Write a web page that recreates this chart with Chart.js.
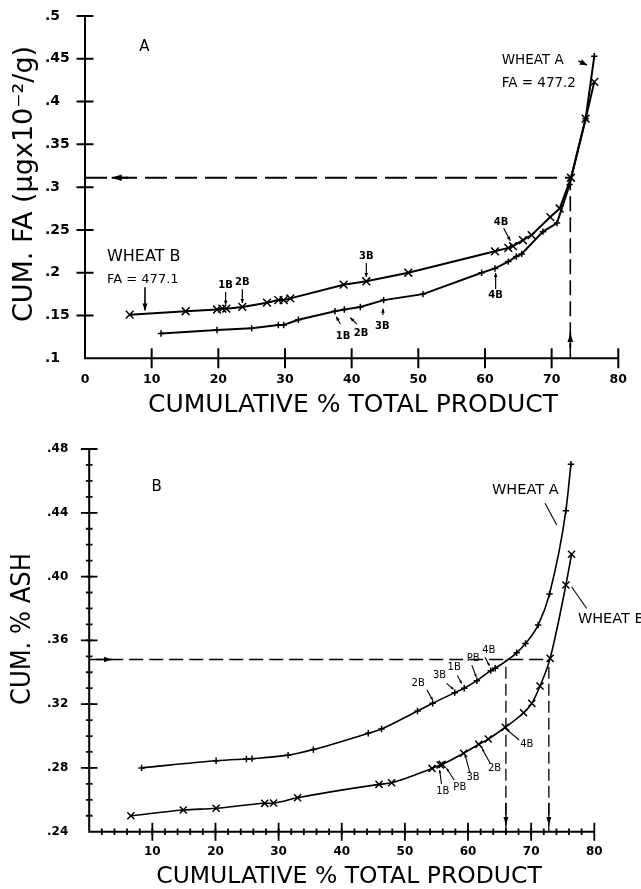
<!DOCTYPE html>
<html><head><meta charset="utf-8">
<script src="https://cdn.jsdelivr.net/npm/chart.js@4.4.1/dist/chart.umd.min.js"></script>
<style>
html,body{margin:0;padding:0;background:#fff;}
#wrap{position:relative;width:641px;height:889px;overflow:hidden;background:#fff;}
#c1{position:absolute;left:0;top:0;}
#c2{position:absolute;left:0;top:420px;}
</style></head><body>
<div id="wrap"><canvas id="c1" width="641" height="420"></canvas><canvas id="c2" width="641" height="469"></canvas></div>
<script>
// ---------- Panel A : cumulative FA ----------
const faXTickValues = [0, 10, 20, 30, 40, 50, 60, 70, 80];
const faXTickLabels = ['0', '10', '20', '30', '40', '50', '60', '70', '80'];
const faYTickValues = [0.1, 0.15, 0.2, 0.25, 0.3, 0.35, 0.4, 0.45, 0.5];
const faYTickLabels = ['.1', '.15', '.2', '.25', '.3', '.35', '.4', '.45', '.5'];

const faWheatAx = [11.4, 19.8, 25.0, 29.0, 29.8, 32.0, 37.5, 38.9, 41.3, 44.8, 50.7, 59.5, 61.5, 63.5, 64.7, 65.5, 68.7, 70.8, 72.7, 75.1, 76.4];
const faWheatAy = [0.129, 0.133, 0.135, 0.139, 0.139, 0.145, 0.155, 0.157, 0.160, 0.168, 0.175, 0.200, 0.205, 0.213, 0.219, 0.222, 0.248, 0.258, 0.303, 0.380, 0.453];
const faWheatBx = [6.7, 15.1, 19.8, 20.6, 21.2, 23.6, 27.3, 29.0, 29.8, 30.8, 38.8, 42.2, 48.5, 61.5, 63.5, 64.2, 65.7, 67.0, 69.8, 71.2, 72.9, 75.1, 76.4];
const faWheatBy = [0.151, 0.155, 0.157, 0.158, 0.158, 0.160, 0.165, 0.168, 0.168, 0.170, 0.186, 0.190, 0.200, 0.225, 0.229, 0.231, 0.238, 0.244, 0.265, 0.275, 0.311, 0.380, 0.423];
const faGuideHx = [0, 72.8];
const faGuideHy = [0.311, 0.311];
const faGuideVx = [72.8, 72.8];
const faGuideVy = [0.1, 0.311];

// ---------- Panel B : cumulative % ash ----------
const ashXTickValues = [10, 20, 30, 40, 50, 60, 70, 80];
const ashXTickLabels = ['10', '20', '30', '40', '50', '60', '70', '80'];
const ashYTickValues = [0.24, 0.28, 0.32, 0.36, 0.40, 0.44, 0.48];
const ashYTickLabels = ['.24', '.28', '.32', '.36', '.40', '.44', '.48'];

const ashWheatAx = [8.3, 20.1, 24.9, 25.8, 31.5, 35.5, 44.2, 46.3, 52.0, 54.4, 57.9, 59.4, 61.4, 63.6, 64.3, 67.7, 69.1, 71.1, 72.9, 75.5, 76.3];
const ashWheatAy = [0.280, 0.2845, 0.2856, 0.2858, 0.288, 0.2915, 0.3017, 0.3044, 0.3157, 0.3205, 0.3272, 0.330, 0.3347, 0.341, 0.3425, 0.3522, 0.358, 0.3696, 0.389, 0.4413, 0.4705];
const ashWheatBx = [6.6, 14.9, 20.1, 27.8, 29.2, 33.0, 45.9, 47.9, 54.3, 55.6, 55.9, 59.3, 61.7, 63.2, 65.9, 68.8, 70.1, 71.4, 73.0, 75.5, 76.4];
const ashWheatBy = [0.250, 0.2536, 0.2547, 0.2578, 0.2580, 0.2613, 0.2697, 0.2707, 0.2797, 0.2818, 0.2822, 0.2892, 0.2948, 0.2981, 0.3055, 0.3146, 0.3205, 0.3314, 0.3487, 0.3947, 0.414];
const ashGuideHx = [0, 73.0];
const ashGuideHy = [0.348, 0.348];
const ashGuideV1x = [66.0, 66.0];
const ashGuideV1y = [0.24, 0.348];
const ashGuideV2x = [72.8, 72.8];
const ashGuideV2y = [0.24, 0.348];

const pts = (xs, ys) => xs.map((x, i) => ({x: x, y: ys[i]}));

const FONT = '"DejaVu Sans", "Liberation Sans", sans-serif';

// ---------- decoration plugin (axes with crossing ticks, titles, annotations) ----------
function decoPlugin(cfg) {
  return {
    id: 'deco',
    afterDatasetsDraw(chart) {
      const ctx = chart.ctx, xs = chart.scales.x, ys = chart.scales.y;
      const X = v => xs.getPixelForValue(v), Y = v => ys.getPixelForValue(v);
      ctx.save();
      ctx.strokeStyle = '#000'; ctx.fillStyle = '#000';
      ctx.lineCap = 'butt';
      ctx.lineWidth = cfg.axisWidth;
      ctx.beginPath();
      ctx.moveTo(X(xs.min), Y(ys.max));
      ctx.lineTo(X(xs.min), Y(ys.min));
      ctx.lineTo(X(xs.max), Y(ys.min));
      ctx.stroke();
      ctx.lineWidth = cfg.tickWidth;
      ctx.beginPath();
      cfg.majorX.forEach(v => { const p = X(v); ctx.moveTo(p, Y(ys.min) - cfg.xHalf); ctx.lineTo(p, Y(ys.min) + cfg.xHalf); });
      cfg.majorY.forEach(v => { const p = Y(v); ctx.moveTo(X(xs.min) - cfg.yHalf, p); ctx.lineTo(X(xs.min) + cfg.yHalf, p); });
      ctx.stroke();
      if (cfg.minorXStep) {
        ctx.beginPath();
        for (let v = xs.min + cfg.minorXStep; v < xs.max - 1e-9; v += cfg.minorXStep) {
          const p = X(v); ctx.moveTo(p, Y(ys.min) - cfg.minorHalf); ctx.lineTo(p, Y(ys.min) + cfg.minorHalf);
        }
        for (let k = 1; k < Math.round((ys.max - ys.min) / cfg.minorYStep); k++) {
          const p = Y(ys.min + k * cfg.minorYStep); ctx.moveTo(X(xs.min) - cfg.minorHalf, p); ctx.lineTo(X(xs.min) + cfg.minorHalf, p);
        }
        ctx.stroke();
      }
      const head = (x1, y1, x2, y2, len, w) => {
        const a = Math.atan2(y2 - y1, x2 - x1);
        ctx.beginPath();
        ctx.moveTo(x2, y2);
        ctx.lineTo(x2 - len * Math.cos(a) + w * Math.sin(a), y2 - len * Math.sin(a) - w * Math.cos(a));
        ctx.lineTo(x2 - len * Math.cos(a) - w * Math.sin(a), y2 - len * Math.sin(a) + w * Math.cos(a));
        ctx.closePath(); ctx.fill();
      };
      cfg.arrows.forEach(a => {
        const x1 = X(a[0]), y1 = Y(a[1]), x2 = X(a[2]), y2 = Y(a[3]);
        ctx.lineWidth = a[6] || 1.2;
        ctx.beginPath(); ctx.moveTo(x1, y1); ctx.lineTo(x2, y2); ctx.stroke();
        if (a[4] > 0) head(x1, y1, x2, y2, a[4], a[5]);
      });
      cfg.texts.forEach(t => {
        ctx.font = t.font;
        ctx.textAlign = t.align || 'center';
        ctx.textBaseline = 'middle';
        ctx.fillText(t.s, X(t.x), Y(t.y));
      });
      cfg.titles.forEach(t => {
        ctx.save();
        ctx.translate(t.x, t.y);
        if (t.rot) ctx.rotate(t.rot);
        ctx.font = t.font;
        ctx.textAlign = 'center';
        ctx.textBaseline = 'middle';
        ctx.fillText(t.text, 0, 0, t.maxWidth);
        ctx.restore();
      });
      ctx.restore();
    }
  };
}

function lineSet(data, style, radius, width, smooth) {
  return {data: data, showLine: true, borderColor: '#000', borderWidth: width,
    pointStyle: style, pointRadius: radius, pointBorderColor: '#000', pointBorderWidth: 1.5,
    pointBackgroundColor: '#000', fill: false, tension: 0, clip: false,
    cubicInterpolationMode: smooth ? 'monotone' : 'default'};
}
function guideSet(data, dash, width) {
  return {data: data, showLine: true, borderColor: '#000', borderWidth: width, borderDash: dash,
    pointRadius: 0, fill: false, tension: 0, clip: false};
}
function tickFont(size) { return {family: FONT, size: size, weight: 'bold'}; }

// ---------- chart A ----------
const boldS = 'bold 10px ' + FONT;
new Chart(document.getElementById('c1'), {
  type: 'scatter',
  data: {datasets: [
    lineSet(pts(faWheatBx, faWheatBy), 'crossRot', 5.5, 2, false),
    lineSet(pts(faWheatAx, faWheatAy), 'cross', 3.2, 2, false),
    guideSet(pts(faGuideHx, faGuideHy), [22, 8], 1.8),
    guideSet(pts(faGuideVx, faGuideVy), [15, 6], 1.6)
  ]},
  options: {
    responsive: false, devicePixelRatio: 1, animation: false, events: [],
    layout: {padding: {left: 45, right: 18.3, top: 16, bottom: 0}},
    plugins: {legend: {display: false}, tooltip: {enabled: false}},
    scales: {
      x: {type: 'linear', min: 0, max: 80,
        afterBuildTicks: s => { s.ticks = faXTickValues.map(v => ({value: v})); },
        afterFit: s => { s.height = 61.7; },
        grid: {display: false, drawTicks: false}, border: {display: false},
        ticks: {callback: (v, i) => faXTickLabels[i], font: tickFont(12.5), color: '#000', padding: 14, maxRotation: 0, autoSkip: false}},
      y: {type: 'linear', min: 0.1, max: 0.5,
        afterBuildTicks: s => { s.ticks = faYTickValues.map(v => ({value: v})); },
        afterFit: s => { s.width = 40; },
        grid: {display: false, drawTicks: false}, border: {display: false},
        ticks: {callback: (v, i) => faYTickLabels[i], font: tickFont(14), color: '#000', crossAlign: 'far', padding: 0, autoSkip: false}}
    }
  },
  plugins: [decoPlugin({
    axisWidth: 2, tickWidth: 2, xHalf: 10, yHalf: 8.5,
    majorX: faXTickValues.slice(1), majorY: faYTickValues.slice(1),
    titles: [
      {text: 'CUMULATIVE % TOTAL PRODUCT', x: 353, y: 405, font: '25px ' + FONT, maxWidth: 413},
      {text: 'CUM. FA (\u03bcgx10\u207b\u00b2/g)', x: 25, y: 184, font: '27px ' + FONT, maxWidth: 288, rot: -Math.PI / 2}
    ],
    texts: [
      {s: 'A', x: 8.9, y: 0.464, font: '15px ' + FONT},
      {s: 'WHEAT B', x: 3.3, y: 0.218, font: '16px ' + FONT, align: 'left'},
      {s: 'FA = 477.1', x: 3.3, y: 0.1915, font: '13px ' + FONT, align: 'left'},
      {s: '1B', x: 21.1, y: 0.1856, font: boldS},
      {s: '2B', x: 23.6, y: 0.189, font: boldS},
      {s: '3B', x: 42.2, y: 0.2187, font: boldS},
      {s: '1B', x: 38.7, y: 0.1252, font: boldS},
      {s: '2B', x: 41.4, y: 0.129, font: boldS},
      {s: '3B', x: 44.6, y: 0.137, font: boldS},
      {s: '4B', x: 62.4, y: 0.2584, font: boldS},
      {s: '4B', x: 61.6, y: 0.174, font: boldS},
      {s: 'WHEAT A', x: 62.5, y: 0.4476, font: '13.5px ' + FONT, align: 'left'},
      {s: 'FA = 477.2', x: 62.5, y: 0.4216, font: '13.5px ' + FONT, align: 'left'}
    ],
    arrows: [
      [9.0, 0.183, 9.0, 0.156, 7, 2.5, 1.6],
      [21.1, 0.1775, 21.1, 0.1625, 4, 1.8],
      [23.6, 0.1806, 23.6, 0.1645, 4, 1.8],
      [42.2, 0.2113, 42.2, 0.195, 4, 1.8],
      [38.3, 0.140, 37.7, 0.1486, 4, 1.8],
      [40.8, 0.140, 39.8, 0.1474, 4, 1.8],
      [44.7, 0.1506, 44.7, 0.158, 4, 1.8],
      [62.8, 0.252, 63.8, 0.2374, 4, 1.8],
      [61.6, 0.181, 61.6, 0.1996, 4, 1.8],
      [74.0, 0.4476, 75.3, 0.4426, 7, 3, 1.5],
      [6.5, 0.311, 4.0, 0.311, 10, 3.2, 2],
      [72.8, 0.112, 72.8, 0.1296, 9, 2.8, 1.6]
    ]
  })]
});

// ---------- chart B ----------
const smallS = '10px ' + FONT;
new Chart(document.getElementById('c2'), {
  type: 'scatter',
  data: {datasets: [
    lineSet(pts(ashWheatAx, ashWheatAy), 'cross', 3.2, 1.6, true),
    lineSet(pts(ashWheatBx, ashWheatBy), 'crossRot', 5, 1.6, true),
    guideSet(pts(ashGuideHx, ashGuideHy), [14, 6], 1.3),
    guideSet(pts(ashGuideV1x, ashGuideV1y), [12, 5], 1.3),
    guideSet(pts(ashGuideV2x, ashGuideV2y), [12, 5], 1.3)
  ]},
  options: {
    responsive: false, devicePixelRatio: 1, animation: false, events: [],
    layout: {padding: {left: 47, right: 46.7, top: 29, bottom: 0}},
    plugins: {legend: {display: false}, tooltip: {enabled: false}},
    scales: {
      x: {type: 'linear', min: 0, max: 80,
        afterBuildTicks: s => { s.ticks = ashXTickValues.map(v => ({value: v})); },
        afterFit: s => { s.height = 57.3; },
        grid: {display: false, drawTicks: false}, border: {display: false},
        ticks: {callback: (v, i) => ashXTickLabels[i], font: tickFont(12), color: '#000', padding: 12.8, maxRotation: 0, autoSkip: false}},
      y: {type: 'linear', min: 0.24, max: 0.48,
        afterBuildTicks: s => { s.ticks = ashYTickValues.map(v => ({value: v})); },
        afterFit: s => { s.width = 42.2; },
        grid: {display: false, drawTicks: false}, border: {display: false},
        ticks: {callback: (v, i) => ashYTickLabels[i], font: tickFont(12), color: '#000', crossAlign: 'far', padding: 0, autoSkip: false}}
    }
  },
  plugins: [decoPlugin({
    axisWidth: 2, tickWidth: 1.8, xHalf: 9, yHalf: 8.3,
    majorX: ashXTickValues, majorY: ashYTickValues.slice(1),
    minorXStep: 2, minorYStep: 0.01, minorHalf: 3.3,
    titles: [
      {text: 'CUMULATIVE % TOTAL PRODUCT', x: 349, y: 457, font: '23.5px ' + FONT, maxWidth: 392},
      {text: 'CUM. % ASH', x: 23, y: 209, font: '26px ' + FONT, maxWidth: 152, rot: -Math.PI / 2}
    ],
    texts: [
      {s: 'B', x: 10.7, y: 0.4563, font: '15px ' + FONT},
      {s: 'WHEAT A', x: 63.8, y: 0.4542, font: '14.5px ' + FONT, align: 'left'},
      {s: 'WHEAT B', x: 77.4, y: 0.3734, font: '14.5px ' + FONT, align: 'left'},
      {s: '2B', x: 52.1, y: 0.333, font: smallS},
      {s: '3B', x: 55.5, y: 0.3383, font: smallS},
      {s: '1B', x: 57.8, y: 0.343, font: smallS},
      {s: 'PB', x: 60.8, y: 0.3487, font: smallS},
      {s: '4B', x: 63.3, y: 0.354, font: smallS},
      {s: '4B', x: 69.3, y: 0.2948, font: smallS},
      {s: '2B', x: 64.2, y: 0.2798, font: smallS},
      {s: '3B', x: 60.8, y: 0.2739, font: smallS},
      {s: 'PB', x: 58.7, y: 0.2676, font: smallS},
      {s: '1B', x: 56.0, y: 0.2655, font: smallS}
    ],
    arrows: [
      [72.2, 0.446, 74.05, 0.4323, 0, 0, 1.1],
      [78.8, 0.380, 76.4, 0.3936, 0, 0, 1.1],
      [53.5, 0.3288, 54.4, 0.3226, 3, 1.3, 1.1],
      [56.6, 0.333, 57.7, 0.3293, 3, 1.3, 1.1],
      [58.3, 0.338, 59.0, 0.333, 3, 1.3, 1.1],
      [60.6, 0.3445, 61.3, 0.337, 3, 1.3, 1.1],
      [62.7, 0.3493, 63.4, 0.344, 3, 1.3, 1.1],
      [68.1, 0.2975, 66.1, 0.3042, 3, 1.3, 1.1],
      [63.5, 0.2829, 62.2, 0.2923, 3, 1.3, 1.1],
      [60.3, 0.277, 59.5, 0.2885, 3, 1.3, 1.1],
      [57.8, 0.2724, 56.6, 0.2798, 3, 1.3, 1.1],
      [55.8, 0.270, 55.5, 0.2787, 3, 1.3, 1.1],
      [1.0, 0.348, 3.6, 0.348, 8, 2.8, 1.5],
      [66.0, 0.258, 66.0, 0.2442, 8, 2.5, 1.3],
      [72.8, 0.258, 72.8, 0.2442, 8, 2.5, 1.3]
    ]
  })]
});
</script>
</body></html>
